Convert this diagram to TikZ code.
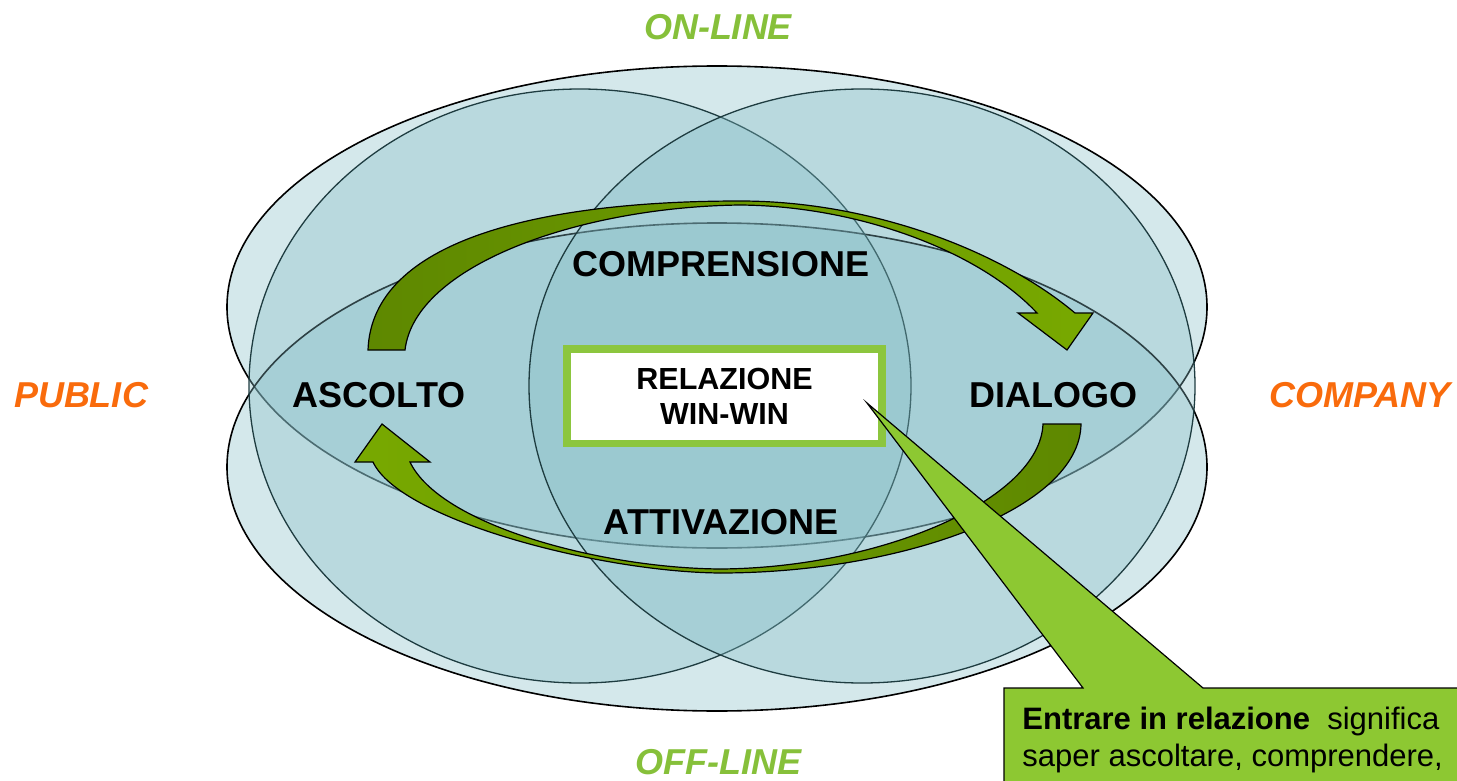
\documentclass[tikz,border=0pt]{standalone}
\usepackage{fontspec}
\setmainfont{Liberation Sans}
\definecolor{onlineGreen}{HTML}{86C03A}
\definecolor{orangeT}{HTML}{F96B0C}
\definecolor{ellFill}{HTML}{85BDC6}
\definecolor{circLine}{HTML}{1E3C40}
\definecolor{arrDark}{HTML}{5E8800}
\definecolor{arrLight}{HTML}{78A900}
\definecolor{boxGreen}{HTML}{8CC63E}
\definecolor{callGreen}{HTML}{8DC832}
\begin{document}
\begin{tikzpicture}[x=0.5pt,y=-0.5pt,
  outerell/.style={fill=ellFill, fill opacity=0.35, draw=black, draw opacity=1, line width=0.8pt},
  circell/.style={fill=ellFill, fill opacity=0.35, draw=circLine, draw opacity=1, line width=0.65pt},
  biglbl/.style={font=\fontsize{18}{21}\selectfont\bfseries, inner sep=0pt, text=black},
  sidelbl/.style={font=\fontsize{18}{21}\selectfont\bfseries\itshape, inner sep=0pt},
  arrowshape/.style={draw=black, line width=0.6pt, line join=miter},
  calltext/.style={font=\fontsize{15.5}{18}\selectfont, inner sep=0pt, anchor=base west}]
\useasboundingbox (0,0) rectangle (1457,781);
\clip (0,0) rectangle (1457,781);

% ellipses
\path[outerell] (717,307) ellipse [x radius=245pt, y radius=120.5pt];
\path[outerell] (717,467) ellipse [x radius=245pt, y radius=122pt];
\path[circell] (580,386) ellipse [x radius=165.5pt, y radius=148.5pt];
\path[circell] (862,386) ellipse [x radius=166.5pt, y radius=148.5pt];

% top curved arrow (ascolto -> dialogo)
\path[arrowshape, left color=arrDark, right color=arrLight]
  (368,350) .. controls (372,240) and (540,201) .. (740,201)
  .. controls (870,201) and (1000,250) .. (1075,313)
  -- (1093,313) -- (1067,350) -- (1018,313) -- (1037,313)
  .. controls (980,252) and (860,206) .. (740,205)
  .. controls (580,207) and (415,265) .. (405,350) -- cycle;

% bottom curved arrow (dialogo -> ascolto)
\path[arrowshape, left color=arrLight, right color=arrDark]
  (1081,424) .. controls (1080,510) and (900,573) .. (720,573)
  .. controls (600,572) and (400,520) .. (373,462)
  -- (355,462) -- (382,424) -- (430,462) -- (410,462)
  .. controls (440,525) and (600,568) .. (720,569)
  .. controls (880,568) and (1040,500) .. (1043,424) -- cycle;

% labels
\node[sidelbl, text=onlineGreen] (online) at (718,27) {ON-LINE};
\node[sidelbl, text=onlineGreen] (offline) at (718,762) {OFF-LINE};
\node[sidelbl, text=orangeT] (public) at (81,395) {PUBLIC};
\node[sidelbl, text=orangeT] (company) at (1360,395) {COMPANY};
\node[biglbl] (compr) at (721,264) {COMPRENSIONE};
\node[biglbl] (ascolto) at (379,395) {ASCOLTO};
\node[biglbl] (dialogo) at (1053,395) {DIALOGO};
\node[biglbl] (attiv) at (721,522) {ATTIVAZIONE};

% central box
\node[draw=boxGreen, line width=3.75pt, fill=white, inner sep=0pt,
      minimum width=157.5pt, minimum height=47.25pt, align=center,
      font=\fontsize{15.25}{17.5}\selectfont\bfseries] (box) at (724.5,396.25)
      {RELAZIONE\\WIN-WIN};

% callout
\coordinate (tip) at (867,403);
\path[draw=black, line width=0.6pt, fill=callGreen, line join=miter]
  (1004,688) -- (1083,688) -- (tip) -- (1203,688) -- (1480,688)
  -- (1480,800) -- (1004,800) -- cycle;
\node[calltext] (c1) at (1022,729) {\textbf{Entrare in relazione}\ \ significa};
\node[calltext] (c2) at (1022,766) {saper ascoltare, comprendere,};
\end{tikzpicture}
\end{document}
